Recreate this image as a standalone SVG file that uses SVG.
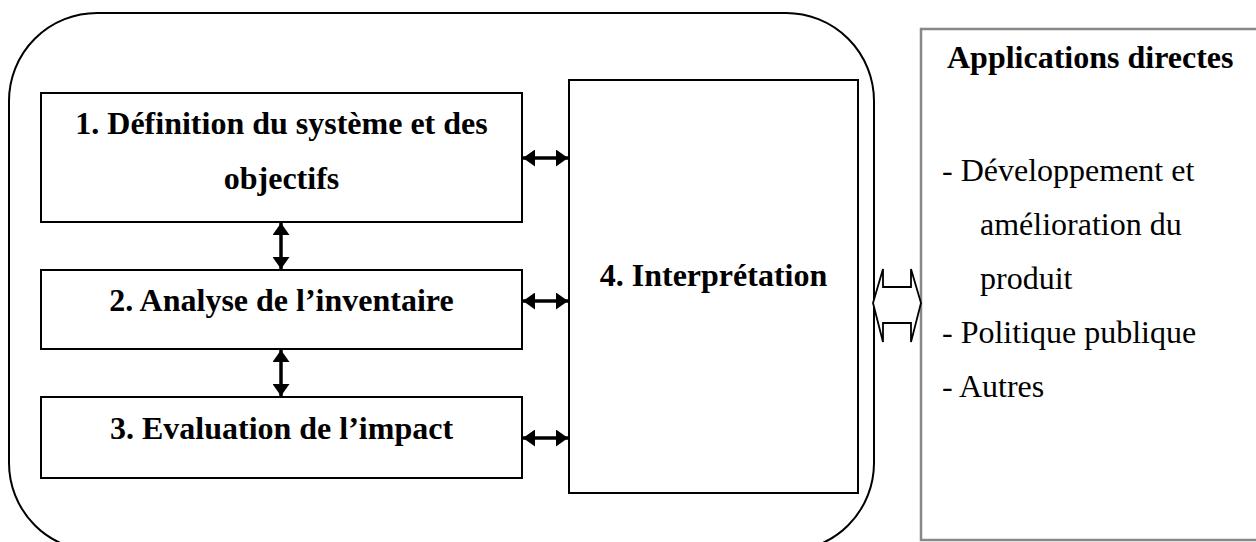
<svg xmlns="http://www.w3.org/2000/svg" width="1256" height="542" viewBox="0 0 1256 542">
<style>
.box{fill:#fff;stroke:#000;stroke-width:2}
.b{font-family:"Liberation Serif","Times New Roman",serif;font-weight:bold;font-size:32px;fill:#000}
.r{font-family:"Liberation Serif","Times New Roman",serif;font-size:32px;fill:#000}
.c{stroke:#000;stroke-width:3.5;fill:none}
</style>
<defs>
<marker id="ah" viewBox="0 0 12 17" refX="12" refY="8.5" markerWidth="12" markerHeight="17" markerUnits="userSpaceOnUse" orient="auto-start-reverse">
<path d="M0,0 L12,8.5 L0,17 Z" fill="#000"/>
</marker>
</defs>
<rect id="frame" x="9" y="13" width="865" height="538" rx="88" ry="88" fill="none" stroke="#000" stroke-width="2"/>
<g id="n1"><rect class="box" x="41" y="93" width="481" height="129"/>
<text class="b" x="281.5" y="134" text-anchor="middle">1. Définition du système et des</text>
<text class="b" x="281.5" y="189" text-anchor="middle">objectifs</text></g>
<g id="n2"><rect class="box" x="41" y="270" width="481" height="79"/>
<text class="b" x="281.5" y="311" text-anchor="middle">2. Analyse de l’inventaire</text></g>
<g id="n3"><rect class="box" x="41" y="397" width="481" height="81"/>
<text class="b" x="281.5" y="439" text-anchor="middle">3. Evaluation de l’impact</text></g>
<g id="n4"><rect class="box" x="569" y="80" width="289" height="413"/>
<text class="b" x="713.5" y="286" text-anchor="middle">4. Interprétation</text></g>
<g id="n5"><rect x="921" y="29" width="345" height="511" fill="#fff" stroke="#888" stroke-width="2.5"/>
<text class="b" x="947" y="68">Applications directes</text>
<text class="r" x="942" y="181">- Développement et</text>
<text class="r" x="980" y="235">amélioration du</text>
<text class="r" x="980" y="289">produit</text>
<text class="r" x="942" y="343">- Politique publique</text>
<text class="r" x="942" y="397">- Autres</text></g>
<g id="connectors">
<line class="c" x1="523" y1="158" x2="568" y2="158" marker-start="url(#ah)" marker-end="url(#ah)"/>
<line class="c" x1="523" y1="301" x2="568" y2="301" marker-start="url(#ah)" marker-end="url(#ah)"/>
<line class="c" x1="523" y1="438" x2="568" y2="438" marker-start="url(#ah)" marker-end="url(#ah)"/>
<line class="c" x1="281" y1="223" x2="281" y2="269" marker-start="url(#ah)" marker-end="url(#ah)"/>
<line class="c" x1="281" y1="350" x2="281" y2="396" marker-start="url(#ah)" marker-end="url(#ah)"/>
<path d="M873,303 L883,269 L883,287 L911,287 L911,269 L921,303 L911,342 L911,323 L883,323 L883,342 Z" fill="#fff" stroke="#000" stroke-width="1.8" stroke-linejoin="miter"/>
</g>
</svg>
